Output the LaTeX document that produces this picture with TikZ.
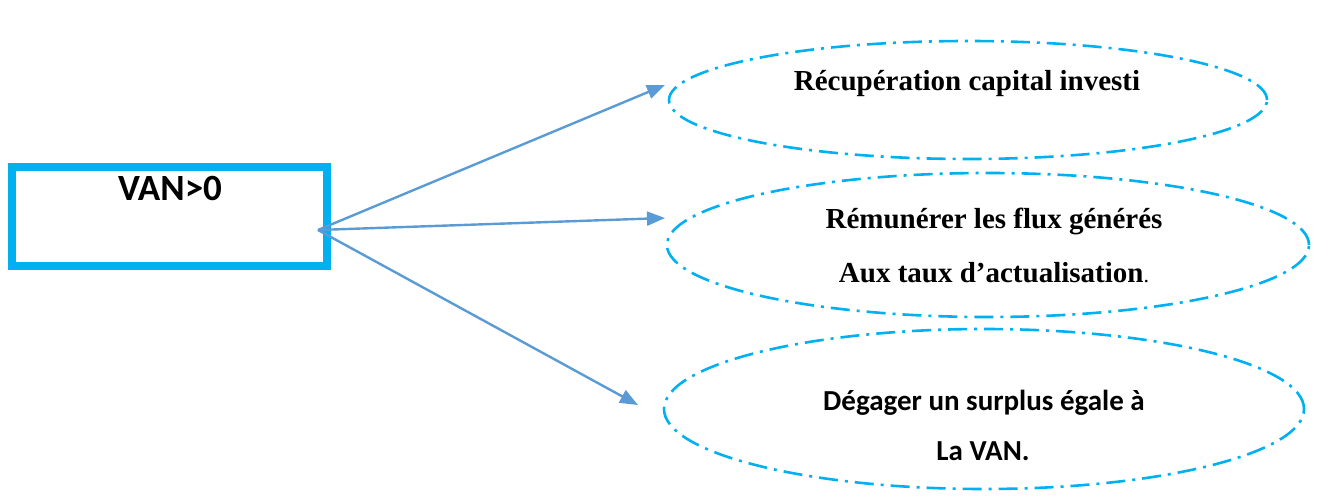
\documentclass[tikz,border=0pt]{standalone}
\usepackage{fontspec}
\setmainfont{Liberation Serif}
\newfontfamily\calibri{Carlito}
\usetikzlibrary{arrows.meta,shapes.geometric}
\definecolor{boxblue}{HTML}{00B0F0}
\definecolor{arrowblue}{HTML}{5B9BD5}

\begin{document}
\begin{tikzpicture}[x=1pt,y=-1pt,
  oval/.style={draw=boxblue,line width=2.6pt,
    dash pattern=on 19pt off 7pt on 3pt off 7pt,
    ellipse,inner sep=0pt},
  link/.style={draw=arrowblue,line width=2.4pt,
    -{Triangle[length=18pt,width=14pt]}},
  serifbold/.style={font=\fontsize{29}{34}\selectfont\bfseries,anchor=base},
  sansbold/.style={font=\calibri\fontsize{29}{34}\selectfont\bfseries,anchor=base}]
\useasboundingbox (0,0) rectangle (1324,495);

% source box
\node[draw=boxblue,line width=8pt,minimum width=315pt,minimum height=99pt,
      inner sep=0pt] (van) at (169.5,216.5) {};
\node[font=\calibri\fontsize{37}{40}\selectfont\bfseries,anchor=base]
      (vantxt) at (170,200) {VAN>0};

% outcome ovals
\node[oval,minimum width=598pt,minimum height=118pt] (e1) at (968,100) {};
\node[oval,minimum width=642pt,minimum height=144pt] (e2) at (988,245) {};
\node[oval,minimum width=640pt,minimum height=160pt] (e3) at (984,409) {};

\node[serifbold] (l1) at (967,90) {Récupération capital investi};
\node[serifbold] (l2a) at (994,228) {Rémunérer les flux générés};
\node[serifbold] (l2b) at (994,282) {Aux taux d’actualisation\textmd{\fontsize{22}{26}\selectfont.}};
\node[sansbold] (l3a) at (984,410) {Dégager un surplus égale à};
\node[sansbold] (l3b) at (983,460) {La VAN.};

% connectors
\coordinate (src) at (318,230);
\coordinate (h1) at (665,85);
\coordinate (h2) at (665,218);
\coordinate (h3) at (638,405);
\draw[link] (src) -- (h1);
\draw[link] (src) -- (h2);
\draw[link] (src) -- (h3);
\end{tikzpicture}
\end{document}
